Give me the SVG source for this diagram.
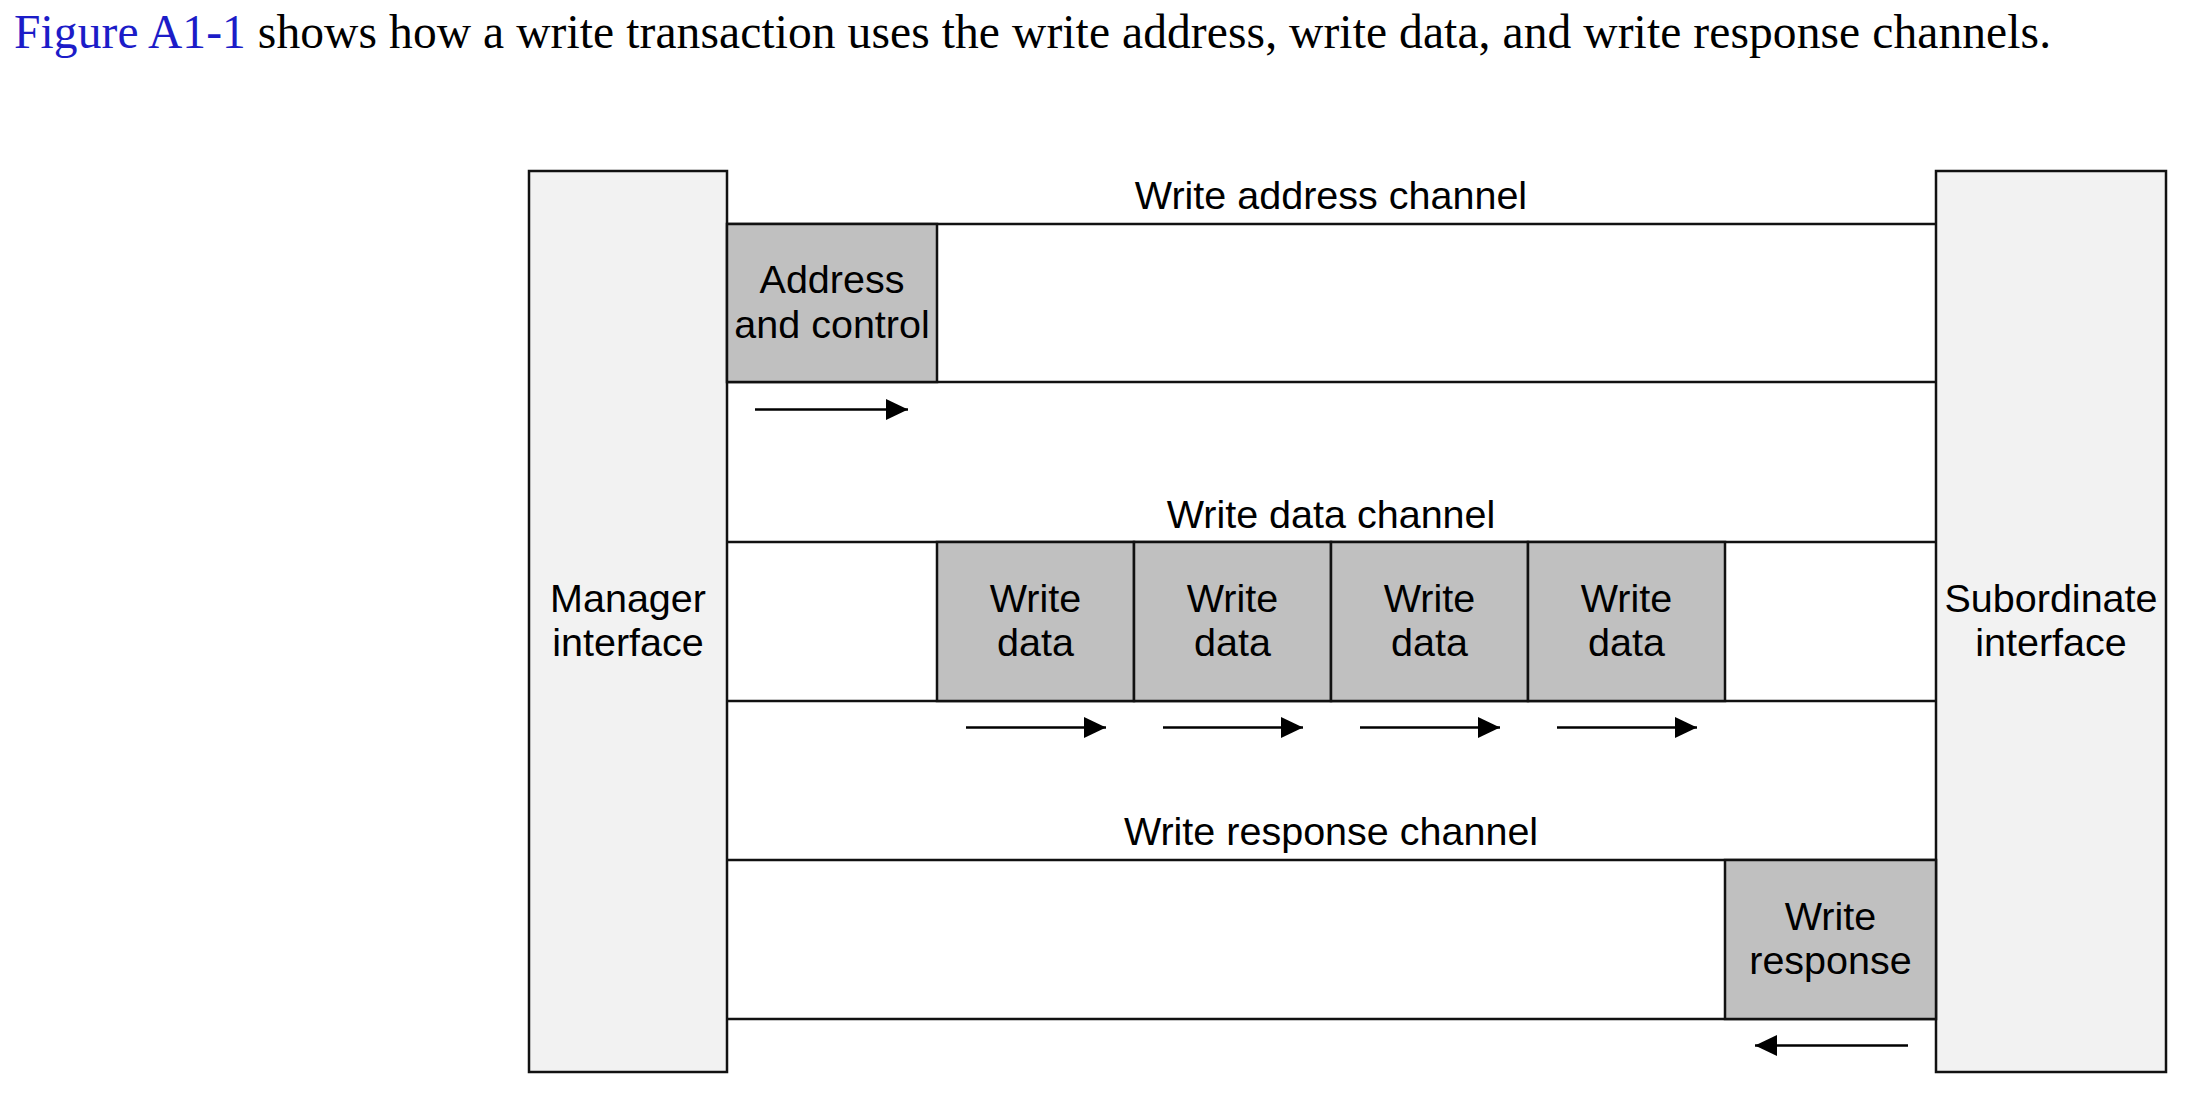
<svg xmlns="http://www.w3.org/2000/svg" width="2200" height="1104" viewBox="0 0 2200 1104">
  <style>
    .title { font-family: "Liberation Serif", "Times New Roman", serif; font-size: 47.5px; fill: #000; }
    .link { fill: #1c1cc8; }
    .lbl { font-family: "Liberation Sans", Arial, Helvetica, sans-serif; font-size: 39.5px; fill: #000; text-anchor: middle; }
    .iface { fill: #f2f2f2; stroke: #111; stroke-width: 2.5; }
    .blk { fill: #c0c0c0; stroke: #111; stroke-width: 2.5; }
    .rowline { stroke: #111; stroke-width: 2.5; fill: none; }
    .arrow { stroke: #000; stroke-width: 2.5; fill: none; marker-end: url(#head); }
  </style>
  <defs>
    <marker id="head" markerUnits="userSpaceOnUse" markerWidth="22" markerHeight="21" viewBox="0 0 22 21" refX="22" refY="10.5" orient="auto">
      <path d="M0,0 L22,10.5 L0,21 z" fill="#000"/>
    </marker>
  </defs>
  <rect width="2200" height="1104" fill="#fff"/>

  <text class="title" x="14" y="48" textLength="2037" lengthAdjust="spacing"><tspan class="link">Figure A1-1</tspan> shows how a write transaction uses the write address, write data, and write response channels.</text>

  <g id="manager">
    <rect class="iface" x="529" y="171" width="198" height="901"/>
    <text class="lbl" x="628" y="612">Manager</text>
    <text class="lbl" x="628" y="656">interface</text>
  </g>
  <g id="subordinate">
    <rect class="iface" x="1936" y="171" width="230" height="901"/>
    <text class="lbl" x="2051" y="612">Subordinate</text>
    <text class="lbl" x="2051" y="656">interface</text>
  </g>

  <g id="write-address-channel">
    <text class="lbl" x="1331" y="209">Write address channel</text>
    <line class="rowline" x1="727" y1="224" x2="1936" y2="224"/>
    <line class="rowline" x1="727" y1="382" x2="1936" y2="382"/>
  </g>
  <g id="address-control">
    <rect class="blk" x="727" y="224" width="210" height="158"/>
    <text class="lbl" x="832" y="293">Address</text>
    <text class="lbl" x="832" y="338">and control</text>
  </g>

  <g id="write-data-channel">
    <text class="lbl" x="1331" y="528">Write data channel</text>
    <line class="rowline" x1="727" y1="542" x2="1936" y2="542"/>
    <line class="rowline" x1="727" y1="701" x2="1936" y2="701"/>
  </g>
  <g id="write-data-1">
    <rect class="blk" x="937" y="542" width="197" height="159"/>
    <text class="lbl" x="1035.5" y="612">Write</text>
    <text class="lbl" x="1035.5" y="656">data</text>
  </g>
  <g id="write-data-2">
    <rect class="blk" x="1134" y="542" width="197" height="159"/>
    <text class="lbl" x="1232.5" y="612">Write</text>
    <text class="lbl" x="1232.5" y="656">data</text>
  </g>
  <g id="write-data-3">
    <rect class="blk" x="1331" y="542" width="197" height="159"/>
    <text class="lbl" x="1429.5" y="612">Write</text>
    <text class="lbl" x="1429.5" y="656">data</text>
  </g>
  <g id="write-data-4">
    <rect class="blk" x="1528" y="542" width="197" height="159"/>
    <text class="lbl" x="1626.5" y="612">Write</text>
    <text class="lbl" x="1626.5" y="656">data</text>
  </g>

  <g id="write-response-channel">
    <text class="lbl" x="1331" y="845">Write response channel</text>
    <line class="rowline" x1="727" y1="860" x2="1936" y2="860"/>
    <line class="rowline" x1="727" y1="1019" x2="1936" y2="1019"/>
  </g>
  <g id="write-response">
    <rect class="blk" x="1725" y="860" width="211" height="159"/>
    <text class="lbl" x="1830.5" y="930">Write</text>
    <text class="lbl" x="1830.5" y="974">response</text>
  </g>

  <g id="connectors">
    <line class="arrow" x1="755" y1="409.5" x2="908" y2="409.5"/>
    <line class="arrow" x1="966" y1="727.5" x2="1106" y2="727.5"/>
    <line class="arrow" x1="1163" y1="727.5" x2="1303" y2="727.5"/>
    <line class="arrow" x1="1360" y1="727.5" x2="1500" y2="727.5"/>
    <line class="arrow" x1="1557" y1="727.5" x2="1697" y2="727.5"/>
    <line class="arrow" x1="1908" y1="1045.5" x2="1755" y2="1045.5"/>
  </g>
</svg>
